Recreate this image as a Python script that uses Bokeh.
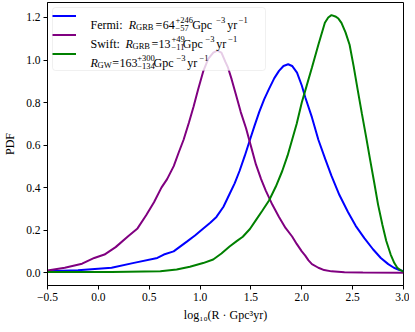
from bokeh.plotting import figure
from bokeh.models import (Legend, LegendItem, Label, CustomJSTickFormatter,
                          FixedTicker, Range1d, BoxAnnotation)
from bokeh.embed import file_html
from bokeh.resources import INLINE

# ---- data ----
swift_x = [-0.5, -0.33, -0.16, -0.04, 0.06, 0.17, 0.29, 0.385, 0.47, 0.547, 0.62,
           0.676, 0.741, 0.79, 0.838, 0.89, 0.935, 0.98, 1.03, 1.08, 1.13, 1.17,
           1.21, 1.25, 1.274, 1.31, 1.355, 1.40, 1.452, 1.50, 1.549, 1.60, 1.646,
           1.71, 1.776, 1.84, 1.905, 1.95, 2.0, 2.034, 2.066, 2.10, 2.163, 2.22,
           2.292, 2.42, 2.6, 3.0]
swift_y = [0.01, 0.023, 0.042, 0.069, 0.085, 0.12, 0.17, 0.208, 0.27, 0.331, 0.40,
           0.44, 0.501, 0.565, 0.625, 0.705, 0.779, 0.86, 0.945, 1.005, 1.035, 1.044,
           1.035, 0.99, 0.965, 0.91, 0.833, 0.755, 0.679, 0.595, 0.509, 0.44, 0.386,
           0.32, 0.262, 0.21, 0.17, 0.135, 0.10, 0.08, 0.058, 0.04, 0.023, 0.012,
           0.006, 0.002, 0.001, 0.0]

fermi_x = [-0.5, -0.2, 0.13, 0.35, 0.58, 0.644, 0.74, 0.87, 0.95, 1.032, 1.10,
           1.161, 1.23, 1.29, 1.34, 1.388, 1.44, 1.485, 1.535, 1.582, 1.63, 1.678,
           1.73, 1.776, 1.82, 1.866, 1.905, 1.953, 2.0, 2.034, 2.10, 2.163, 2.23,
           2.292, 2.37, 2.454, 2.53, 2.615, 2.70, 2.777, 2.85, 2.906, 2.96, 3.0]
fermi_y = [0.007, 0.011, 0.023, 0.046, 0.069, 0.085, 0.10, 0.146, 0.175, 0.208,
           0.235, 0.262, 0.31, 0.37, 0.42, 0.478, 0.55, 0.617, 0.69, 0.756, 0.815,
           0.864, 0.915, 0.949, 0.972, 0.98, 0.972, 0.941, 0.88, 0.825, 0.73, 0.625,
           0.535, 0.455, 0.365, 0.285, 0.22, 0.162, 0.11, 0.069, 0.04, 0.023, 0.012,
           0.007]

gw_x = [-0.5, 0.13, 0.61, 0.77, 0.90, 1.03, 1.129, 1.21, 1.29, 1.36, 1.42, 1.49,
        1.549, 1.61, 1.678, 1.745, 1.808, 1.86, 1.905, 1.95, 2.0, 2.034, 2.10,
        2.163, 2.227, 2.26, 2.292, 2.33, 2.36, 2.39, 2.43, 2.47, 2.51, 2.551, 2.59,
        2.632, 2.672, 2.712, 2.75, 2.793, 2.83, 2.874, 2.91, 2.939, 2.97, 3.0]
gw_y = [0.003, 0.003, 0.007, 0.015, 0.028, 0.045, 0.062, 0.09, 0.123, 0.148, 0.169,
        0.205, 0.247, 0.29, 0.339, 0.405, 0.478, 0.55, 0.625, 0.70, 0.80, 0.856,
        0.965, 1.072, 1.175, 1.20, 1.211, 1.205, 1.195, 1.175, 1.13, 1.072, 0.97,
        0.856, 0.75, 0.64, 0.53, 0.424, 0.32, 0.224, 0.15, 0.085, 0.045, 0.023,
        0.012, 0.005]

x_ticks = [-0.5, 0.0, 0.5, 1.0, 1.5, 2.0, 2.5, 3.0]
y_ticks = [0.0, 0.2, 0.4, 0.6, 0.8, 1.0, 1.2]

FONT = "Liberation Serif"
FW, FH = 356, 283

p = figure(frame_width=FW, frame_height=FH, output_backend="svg",
           toolbar_location=None, x_range=Range1d(-0.5, 3.0),
           y_range=Range1d(-0.0605, 1.2705),
           min_border_top=2, min_border_right=6, min_border_left=4,
           min_border_bottom=2)
p.background_fill_color = "white"
p.border_fill_color = "white"
p.outline_line_color = "black"
p.outline_line_width = 1
p.xgrid.visible = False
p.ygrid.visible = False

fmt = CustomJSTickFormatter(code="return tick.toFixed(1).replace('-', '\\u2212');")
for ax, ticks in ((p.xaxis, x_ticks), (p.yaxis, y_ticks)):
    ax.ticker = FixedTicker(ticks=ticks)
    ax.formatter = fmt
    ax.major_tick_in = 0
    ax.major_tick_out = 4
    ax.minor_tick_line_color = None
    ax.axis_line_color = "black"
    ax.major_tick_line_color = "black"
    ax.major_label_text_font = FONT
    ax.major_label_text_font_size = "11.5px"
    ax.major_label_text_color = "black"
    ax.axis_label_text_font = FONT
    ax.axis_label_text_font_size = "12px"
    ax.axis_label_text_font_style = "normal"
    ax.axis_label_text_color = "black"
    ax.major_label_standoff = 3
p.xaxis.axis_label = "log\u2081\u2080(R \u00b7 Gpc\u00b3yr)"
p.yaxis.axis_label = "PDF"
p.xaxis.axis_label_standoff = 4
p.yaxis.axis_label_standoff = 6

r_f = p.line(fermi_x, fermi_y, line_color="blue", line_width=2)
r_s = p.line(swift_x, swift_y, line_color="purple", line_width=2)
r_g = p.line(gw_x, gw_y, line_color="green", line_width=2)

# legend background (box) drawn below the legend handles and texts
LM, LW, LH = 5, 213, 63
p.add_layout(BoxAnnotation(left=LM, right=LM + LW, top=FH - LM, bottom=FH - LM - LH,
                           left_units="screen", right_units="screen",
                           top_units="screen", bottom_units="screen",
                           fill_color="white", fill_alpha=0.8,
                           line_color="#cccccc", line_width=1, border_radius=3,
                           level="annotation", editable=False))

legend = Legend(items=[LegendItem(label=" ", renderers=[r_f]),
                       LegendItem(label=" ", renderers=[r_s]),
                       LegendItem(label=" ", renderers=[r_g])],
                location="top_left", margin=LM, padding=4, spacing=2,
                glyph_width=24, glyph_height=17, label_height=17,
                label_width=176, label_standoff=5,
                border_line_color=None, background_fill_alpha=0.0,
                label_text_font_size="8px")
p.add_layout(legend)

rows = [17.5, 36.5, 55.5]
MAIN, SMALL = "12px", "8.5px"


def lab(x, top, text, size=MAIN, style="normal"):
    p.add_layout(Label(x=x, y=FH - top, x_units="screen", y_units="screen",
                       text=text, text_font=FONT, text_font_size=size,
                       text_font_style=style, text_color="black",
                       text_baseline="alphabetic", text_align="left",
                       level="overlay"))


# (prefix, prefix_x, R_x, sub, sub_x, eq_x, value, value_x, sup, sub2, pm_x, gpc_x, m3_x, yr_x, m1_x)
legend_rows = [
    ("Fermi:", 43, 81.3, "GRB", 88.5, 108, "64", 115.3, "+246", "\u221257", 128, 144.7, 168.7, 179.7, 191.3),
    ("Swift:", 43, 78, "GRB", 85, 104, "13", 111, "+49", "\u221211", 124, 135.3, 158, 168.7, 180.7),
    ("", 43, 43, "GW", 50, 64.7, "163", 72, "+300", "\u2212134", 89.7, 106, 129, 139.7, 152),
]
for (pre, px, rx, sub, sx, ex, val, vx, sup, sub2, pmx, gx, m3x, yx, m1x), c in zip(legend_rows, rows):
    base = c + 4.5
    if pre:
        lab(px, base, pre)
    lab(rx, base, "R", style="italic")
    lab(sx, base + 2.5, sub, size=SMALL)
    lab(ex, base, "=")
    lab(vx, base, val)
    lab(pmx, base - 5, sup, size=SMALL)
    lab(pmx, base + 3.5, sub2, size=SMALL)
    lab(gx, base, "Gpc")
    lab(m3x, base - 5, "\u22123", size=SMALL)
    lab(yx, base, "yr")
    lab(m1x, base - 5, "\u22121", size=SMALL)

open("out.html", "w").write(file_html(p, INLINE))
